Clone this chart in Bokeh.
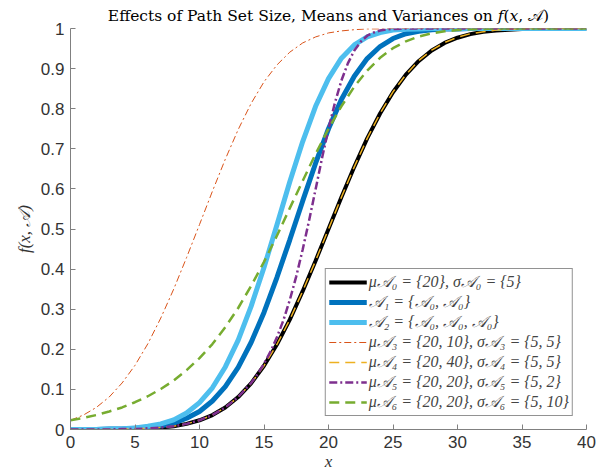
from bokeh.plotting import figure
from bokeh.models import Legend, LegendItem, FixedTicker
from bokeh.embed import file_html
from bokeh.resources import INLINE

# ---- data ----
x = list(range(41))
x5 = list(range(14)) + [14, 14.5, 15, 15.5, 16, 16.5, 17, 17.5, 18, 18.5, 19, 19.5,
                        20, 20.5, 21, 21.5, 22, 22.5, 23, 23.5, 24, 24.5, 25] + list(range(26, 41))

y_a0 = [0.000, 0.000, 0.000, 0.000, 0.001, 0.001, 0.003, 0.005, 0.008, 0.014, 0.023,
        0.036, 0.055, 0.081, 0.115, 0.159, 0.212, 0.274, 0.345, 0.421, 0.500,
        0.579, 0.655, 0.726, 0.788, 0.841, 0.885, 0.919, 0.945, 0.964, 0.977,
        0.986, 0.992, 0.995, 0.997, 0.999, 0.999, 1.000, 1.000, 1.000, 1.000]
y_a1 = [0.000, 0.000, 0.000, 0.001, 0.001, 0.003, 0.005, 0.009, 0.016, 0.028, 0.045,
        0.071, 0.107, 0.155, 0.217, 0.292, 0.379, 0.473, 0.570, 0.664, 0.750,
        0.823, 0.881, 0.925, 0.955, 0.975, 0.987, 0.993, 0.997, 0.999, 0.999,
        1.000, 1.000, 1.000, 1.000, 1.000, 1.000, 1.000, 1.000, 1.000, 1.000]
y_a2 = [0.000, 0.000, 0.000, 0.001, 0.002, 0.004, 0.008, 0.014, 0.024, 0.041, 0.067,
        0.104, 0.156, 0.223, 0.307, 0.404, 0.510, 0.618, 0.718, 0.806, 0.875,
        0.926, 0.959, 0.979, 0.990, 0.996, 0.998, 0.999, 1.000, 1.000, 1.000,
        1.000, 1.000, 1.000, 1.000, 1.000, 1.000, 1.000, 1.000, 1.000, 1.000]
y_a3 = [0.023, 0.036, 0.055, 0.081, 0.116, 0.160, 0.214, 0.278, 0.350, 0.429, 0.511,
        0.594, 0.674, 0.748, 0.813, 0.867, 0.909, 0.941, 0.964, 0.979, 0.989,
        0.994, 0.997, 0.999, 0.999, 1.000, 1.000, 1.000, 1.000, 1.000, 1.000,
        1.000, 1.000, 1.000, 1.000, 1.000, 1.000, 1.000, 1.000, 1.000, 1.000]
y_a4 = [0.000, 0.000, 0.000, 0.000, 0.001, 0.001, 0.003, 0.005, 0.008, 0.014, 0.023,
        0.036, 0.055, 0.081, 0.115, 0.159, 0.212, 0.274, 0.345, 0.421, 0.500,
        0.579, 0.655, 0.726, 0.788, 0.842, 0.885, 0.920, 0.946, 0.965, 0.978,
        0.987, 0.992, 0.996, 0.998, 0.999, 1.000, 1.000, 1.000, 1.000, 1.000]
y_a5 = [0.000, 0.000, 0.000, 0.000, 0.001, 0.001, 0.003, 0.005, 0.008, 0.014, 0.023,
        0.036, 0.055, 0.081,
        0.116, 0.138, 0.164, 0.194, 0.230, 0.272, 0.323, 0.382, 0.449, 0.522,
        0.599, 0.677, 0.750, 0.815, 0.870, 0.913, 0.945, 0.967, 0.982, 0.990,
        0.995, 0.998, 0.999,
        1.000, 1.000, 1.000, 1.000, 1.000, 1.000, 1.000, 1.000, 1.000, 1.000,
        1.000, 1.000, 1.000, 1.000, 1.000]
y_a6 = [0.023, 0.029, 0.036, 0.045, 0.055, 0.068, 0.083, 0.101, 0.122, 0.148, 0.178,
        0.213, 0.255, 0.303, 0.358, 0.418, 0.483, 0.552, 0.620, 0.687, 0.750,
        0.806, 0.855, 0.895, 0.927, 0.951, 0.968, 0.980, 0.988, 0.993, 0.996,
        0.998, 0.999, 1.000, 1.000, 1.000, 1.000, 1.000, 1.000, 1.000, 1.000]

labels = [
    "μ𝒜₀ = {20}, σ𝒜₀ = {5}",
    "𝒜₁ = {𝒜₀, 𝒜₀}",
    "𝒜₂ = {𝒜₀, 𝒜₀, 𝒜₀}",
    "μ𝒜₃ = {20, 10}, σ𝒜₃ = {5, 5}",
    "μ𝒜₄ = {20, 40}, σ𝒜₄ = {5, 5}",
    "μ𝒜₅ = {20, 20}, σ𝒜₅ = {5, 2}",
    "μ𝒜₆ = {20, 20}, σ𝒜₆ = {5, 10}",
]
x_ticks = [0, 5, 10, 15, 20, 25, 30, 35, 40]
y_ticks = [0, 0.1, 0.2, 0.3, 0.4, 0.5, 0.6, 0.7, 0.8, 0.9, 1]
title_text = "Effects of Path Set Size, Means and Variances on 𝑓(𝑥, 𝒜)"

# ---- figure ----
p = figure(frame_width=516, frame_height=401, output_backend="svg", toolbar_location=None,
           x_range=(0, 40), y_range=(0, 1), min_border_left=70, min_border_right=13,
           min_border_top=27, min_border_bottom=42)
p.title.text = title_text
p.title.align = "center"
p.title.text_font = "DejaVu Serif"
p.title.text_font_style = "normal"
p.title.text_font_size = "15.5px"
p.title.text_color = "#000000"
p.title.standoff = 8

p.grid.visible = False
p.outline_line_color = None
p.background_fill_color = "white"
p.border_fill_color = "white"

for ax in (p.xaxis[0], p.yaxis[0]):
    ax.axis_line_color = "#808080"
    ax.major_tick_line_color = "#808080"
    ax.minor_tick_line_color = None
    ax.major_tick_in = 5
    ax.major_tick_out = 0
    ax.major_label_text_font = "Liberation Sans"
    ax.major_label_text_font_size = "17px"
    ax.major_label_text_color = "#333333"
    ax.major_label_standoff = 6
    ax.axis_label_text_font = "Liberation Serif"
    ax.axis_label_text_font_style = "italic"
    ax.axis_label_text_font_size = "17px"
    ax.axis_label_text_color = "#333333"
    ax.axis_label_standoff = 1

p.xaxis[0].ticker = FixedTicker(ticks=x_ticks)
p.yaxis[0].ticker = FixedTicker(ticks=y_ticks)
p.yaxis[0].major_label_overrides = {0: "0", 1: "1"}
p.yaxis[0].axis_label_standoff = 4
p.xaxis[0].axis_label = "x"
p.yaxis[0].axis_label = "f(x, 𝒜)"

r0 = p.line(x, y_a0, line_color="#000000", line_width=4)
r1 = p.line(x, y_a1, line_color="#0072BD", line_width=5)
r2 = p.line(x, y_a2, line_color="#4DBEEE", line_width=5)
r3 = p.line(x, y_a3, line_color="#D95319", line_width=1, line_dash="7 3 2 3")
r4 = p.line(x, y_a4, line_color="#EDB120", line_width=1.5, line_dash="10 6")
r5 = p.line(x5, y_a5, line_color="#7E2F8E", line_width=2.5, line_dash="8 3 2 3")
r6 = p.line(x, y_a6, line_color="#77AC30", line_width=2.5, line_dash="10 6")

items = [LegendItem(label=l, renderers=[r]) for l, r in zip(labels, [r0, r1, r2, r3, r4, r5, r6])]
legend = Legend(items=items, location="bottom_right")
legend.margin = 13
legend.padding = 3
legend.spacing = 0
legend.glyph_width = 38
legend.glyph_height = 20
legend.label_height = 20
legend.label_standoff = 2
legend.label_text_font = "Liberation Serif"
legend.label_text_font_size = "16px"
legend.label_text_font_style = "italic"
legend.border_line_color = "#262626"
legend.border_line_width = 1
legend.background_fill_color = "white"
legend.background_fill_alpha = 1
p.add_layout(legend)

open("out.html", "w").write(file_html(p, INLINE))
